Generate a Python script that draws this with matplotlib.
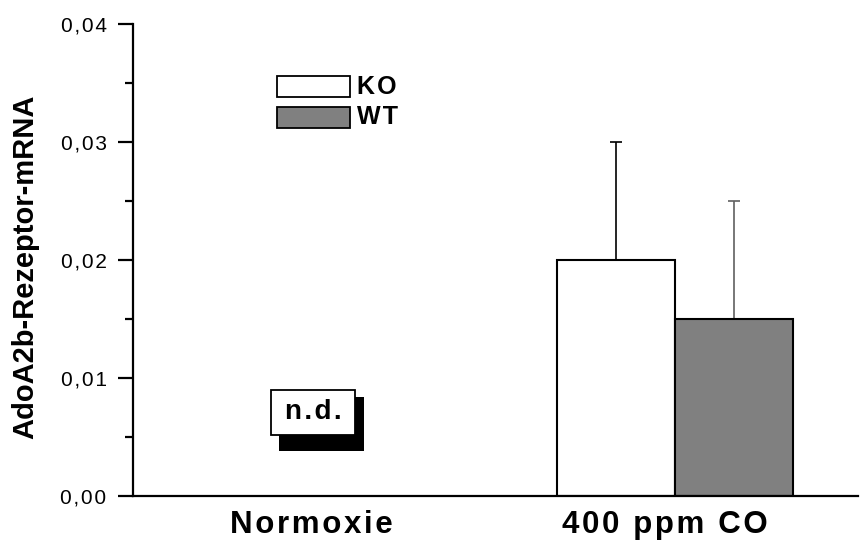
import numpy as np
import matplotlib
matplotlib.use('Agg')
import matplotlib.pyplot as plt
from matplotlib.patches import Rectangle

# data
groups = ['Normoxie', '400 ppm CO']
ko_mean = [np.nan, 0.020]   # Normoxie: n.d.
wt_mean = [np.nan, 0.015]
ko_err = [0.0, 0.010]
wt_err = [0.0, 0.010]
series = ['KO', 'WT']
yticks = [0.00, 0.01, 0.02, 0.03, 0.04]
ytick_labels = ['0,00', '0,01', '0,02', '0,03', '0,04']
ylabel = 'AdoA2b-Rezeptor-mRNA'
nd_text = 'n.d.'

W, H = 860, 540
FAM = ['Liberation Sans', 'DejaVu Sans']


def spaced(s, sp='\u200a'):
    return sp.join(s)


def fx(px):
    return px / W


def fy(py):
    return 1 - py / H


fig = plt.figure(figsize=(W / 100, H / 100), dpi=100)
ax = fig.add_axes([fx(133), fy(495.7), fx(858) - fx(133), fy(23.7) - fy(495.7)])

x = np.arange(1, len(groups) + 1)
bw = 118 / 360
ax.bar(x - bw / 2, ko_mean, bw, color='white', edgecolor='black', linewidth=1.5, zorder=2)
ax.bar(x + bw / 2, wt_mean, bw, color='#808080', edgecolor='black', linewidth=1.5, zorder=2)
ax.errorbar(x - bw / 2, ko_mean, yerr=[np.zeros(len(x)), ko_err], fmt='none',
            ecolor='black', elinewidth=1.2, capsize=4, capthick=1.2, zorder=1)
ax.errorbar(x + bw / 2, wt_mean, yerr=[np.zeros(len(x)), wt_err], fmt='none',
            ecolor='#606060', elinewidth=1.2, capsize=4, capthick=1.2, zorder=1)

ax.set_xlim(0.494, 2.508)
ax.set_ylim(0, 0.04)
ax.spines['top'].set_visible(False)
ax.spines['right'].set_visible(False)
ax.spines['left'].set_linewidth(1.6)
ax.spines['bottom'].set_linewidth(1.6)

ax.set_yticks(yticks)
ax.set_yticklabels([spaced(t) for t in ytick_labels], family=FAM, fontsize=15)
ax.set_yticks(np.arange(0.005, 0.04, 0.01), minor=True)
ax.tick_params(axis='y', which='major', direction='out', length=11, width=1.6, pad=8)
ax.tick_params(axis='y', which='minor', direction='out', length=6, width=1.6)
ax.set_xticks([0.989, 1.972])
ax.set_xticklabels([spaced(g) for g in groups], family=FAM, fontsize=22.5, fontweight='bold')
ax.tick_params(axis='x', length=0, pad=10)

fig.text(fx(25), fy(267), ylabel, rotation=90, ha='center', va='center',
         family=FAM, fontsize=21, fontweight='bold')

# legend drawn by hand like the original
colors = ['white', '#808080']
for i, (name, c) in enumerate(zip(series, colors)):
    top = 76 + i * 31
    fig.add_artist(Rectangle((fx(277), fy(top + 20.5)), fx(350) - fx(277), (20.5) / H,
                             transform=fig.transFigure, facecolor=c, edgecolor='black', lw=1.3))
    fig.text(fx(357), fy(top + 10.5), spaced(name), ha='left', va='center',
             family=FAM, fontsize=18, fontweight='bold')

# n.d. box with shadow
fig.add_artist(Rectangle((fx(279), fy(451)), fx(364) - fx(279), (451 - 397) / H,
                         transform=fig.transFigure, facecolor='black', edgecolor='none'))
fig.add_artist(Rectangle((fx(271), fy(435)), fx(355) - fx(271), (435 - 389.5) / H,
                         transform=fig.transFigure, facecolor='white', edgecolor='black', lw=1.3))
fig.text(fx(313), fy(412), spaced(nd_text), ha='center', va='center',
         family=FAM, fontsize=20, fontweight='bold')

fig.savefig('out.png', dpi=100)
